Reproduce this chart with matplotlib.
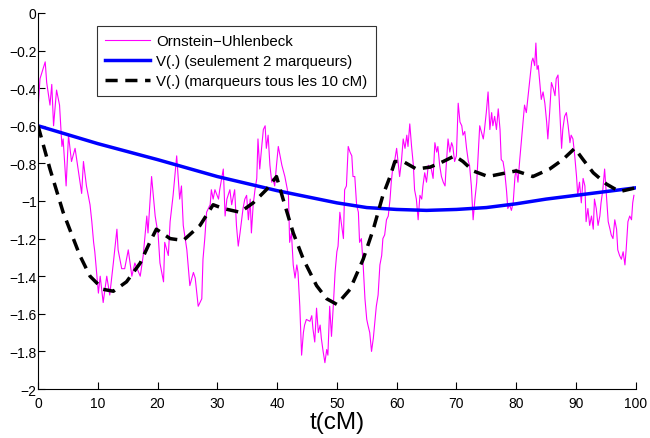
import matplotlib
matplotlib.use("Agg")
import matplotlib.pyplot as plt

plt.rcParams['font.family'] = ['Liberation Sans', 'DejaVu Sans']

# Trajectoire Ornstein-Uhlenbeck
ou_t = [0.0, 0.05, 0.33, 1.2, 1.45, 2.0, 2.3, 2.6, 3.1, 3.6, 4.0, 4.2, 4.7, 5.1, 5.6, 6.2, 6.7,
        7.3, 7.6, 8.1, 8.7, 9.0, 9.3, 9.5, 9.8, 10.1, 10.4, 10.9, 11.5, 12.0, 12.6, 13.2, 13.4,
        14.0, 14.5, 15.1, 15.7, 16.2, 17.1, 17.6, 18.2, 18.4, 19.0, 19.6, 20.1, 20.4, 21.0,
        21.2, 21.8, 22.1, 22.6, 23.2,
        23.7, 24.0, 24.3, 24.9, 25.4, 26.0, 26.3, 26.8, 27.4, 27.6, 27.9, 28.2, 28.8, 29.0,
        29.3, 29.6, 30.2, 30.4, 31.0, 31.3, 31.6, 32.1, 32.4, 32.9, 33.2, 33.5, 33.8, 34.3,
        34.6, 34.9, 35.2, 35.5, 35.7, 36.0, 36.3, 36.6, 36.8, 37.1, 37.4, 37.7, 38.0, 38.2,
        38.5, 38.8, 39.1, 39.3, 39.6, 39.9, 40.2, 40.5, 40.8, 41.3, 41.6, 41.9, 42.1, 42.4,
        42.7, 43.0, 43.3, 43.5, 43.8, 44.1, 44.4, 44.6, 44.9, 45.5, 45.8, 46.0, 46.3, 46.6,
        46.9, 47.2, 47.4, 47.7, 48.0, 48.3, 48.5,
        48.8, 49.1, 49.4, 49.7, 50.0, 50.2, 50.5, 50.8, 51.1, 51.3, 51.6, 51.9, 52.2, 52.5,
        52.7, 53.0, 53.3, 53.6, 53.8, 54.1, 54.4, 54.7, 55.0, 55.2, 55.5, 55.8, 56.1, 56.4,
        56.6, 56.9, 57.2, 57.5, 57.7, 58.0, 58.3, 58.6, 58.9, 59.1, 59.4, 59.7, 60.0, 60.3,
        60.5, 60.8, 61.1, 61.4, 61.7, 61.9, 62.2, 62.5, 62.8, 63.0, 63.3, 63.6, 63.9, 64.2,
        64.4, 64.7, 65.0, 65.3, 65.8, 66.1, 66.4, 66.7, 66.9, 67.2, 67.5, 67.8, 68.1, 68.3,
        68.6, 68.9, 69.2, 69.4, 69.7, 70.0, 70.3, 70.6, 70.9, 71.1, 71.4, 71.7, 72.0, 72.2,
        72.5, 72.8, 73.1, 73.4, 73.6,
        73.9, 74.5, 74.7, 75.0, 75.3, 75.6, 75.9, 76.1, 76.4, 76.7, 77.0, 77.3, 77.5, 77.8,
        78.1, 78.4, 78.6, 78.9, 79.2, 79.5, 79.8, 80.0, 80.3, 80.6, 80.9, 81.2, 81.4, 81.7,
        82.0, 82.3, 82.6, 82.8, 83.1, 83.3, 83.5, 83.7, 83.9, 84.2, 84.5, 84.8, 85.1, 85.3,
        85.6, 85.9, 86.2, 86.5, 86.7, 87.0, 87.3, 87.6, 87.8, 88.1, 88.4, 88.7, 89.0, 89.2,
        89.5, 89.8, 90.1, 90.3, 90.6, 90.9, 91.2, 91.5, 91.7, 92.0, 92.3, 92.6, 92.9, 93.1,
        93.4, 93.7, 94.0, 94.2, 94.5, 94.8, 95.1, 95.4, 95.7, 95.9, 96.2, 96.5, 96.8, 97.0,
        97.3, 97.6, 97.9, 98.2, 98.4, 98.7, 99.0, 99.3, 99.5, 99.7]
ou_y = [-0.60, -0.49, -0.35, -0.26, -0.37, -0.49, -0.38, -0.60, -0.41, -0.49, -0.71, -0.67,
        -0.92, -0.65, -0.79, -0.72, -0.83, -0.96, -0.79, -0.92, -1.02, -1.11, -1.22, -1.27,
        -1.38, -1.49, -1.40, -1.54, -1.40, -1.50, -1.33, -1.15, -1.26, -1.36, -1.36, -1.26,
        -1.40, -1.33, -1.40, -1.29, -1.08, -1.17, -0.87, -1.08, -1.18, -1.33, -1.43, -1.22,
        -1.29, -1.11, -0.97, -0.76,
        -0.99, -0.92, -1.13, -1.26, -1.45, -1.38, -1.41, -1.56, -1.52, -1.31, -1.20, -1.06,
        -1.02, -0.94, -0.99, -0.94, -0.99, -0.94, -0.83, -1.08, -0.99, -0.94, -1.02, -0.94,
        -1.13, -1.24, -1.17, -1.04, -0.99, -0.97, -1.10, -0.99, -1.17, -1.02, -0.94, -0.88,
        -0.67, -0.83, -0.72, -0.62, -0.60, -0.72, -0.65, -0.81, -0.90, -0.88, -0.92, -0.81,
        -0.71, -0.76, -0.81, -0.87, -0.92, -0.97, -1.22, -1.17, -1.34, -1.41, -1.34, -1.38,
        -1.56, -1.82, -1.70, -1.66, -1.63, -1.64, -1.61, -1.68, -1.75, -1.57, -1.70, -1.66,
        -1.73, -1.80, -1.86, -1.79, -1.82,
        -1.56, -1.72, -1.56, -1.38, -1.27, -1.24, -1.06, -1.13, -1.20, -0.94, -0.92, -0.71,
        -0.74, -0.76, -0.87, -0.87, -1.02, -1.06, -1.22, -1.20, -1.34, -1.52, -1.63, -1.66,
        -1.70, -1.80, -1.73, -1.63, -1.56, -1.50, -1.34, -1.29, -1.20, -1.18, -1.10, -1.08,
        -0.99, -0.90, -0.81, -0.78, -0.72, -0.81, -0.87, -0.79, -0.67, -0.72, -0.65, -0.71,
        -0.59, -0.71, -0.81, -0.94, -0.99, -1.10, -0.97, -0.99, -0.92, -0.85, -0.90, -0.81,
        -0.83, -0.88, -0.69, -0.74, -0.71, -0.81, -0.87, -0.90, -0.92, -0.81, -0.67, -0.74,
        -0.69, -0.71, -0.79, -0.76, -0.48, -0.58, -0.60, -0.65, -0.63, -0.72, -0.79, -0.81,
        -0.92, -1.10, -0.99, -0.90, -0.78,
        -0.60, -0.67, -0.62, -0.53, -0.42, -0.62, -0.53, -0.60, -0.55, -0.62, -0.51, -0.62,
        -0.78, -0.79, -0.85, -0.95, -1.04, -1.02, -1.05, -1.01, -0.87, -0.83, -0.90, -0.78,
        -0.67, -0.56, -0.49, -0.53, -0.44, -0.35, -0.26, -0.24, -0.28, -0.16, -0.30, -0.28,
        -0.35, -0.46, -0.42, -0.48, -0.58, -0.67, -0.53, -0.37, -0.40, -0.44, -0.35, -0.33,
        -0.53, -0.72, -0.62, -0.55, -0.53, -0.60, -0.69, -0.65, -0.67, -0.76, -0.87, -0.97,
        -0.90, -1.01, -0.88, -0.92, -1.11, -1.04, -1.13, -1.08, -1.15, -0.99, -1.04, -1.13,
        -1.08, -1.01, -0.94, -0.83, -0.97, -1.11, -1.15, -1.18, -1.20, -1.10, -1.15, -1.26,
        -1.29, -1.31, -1.27, -1.34, -1.26, -1.11, -1.08, -1.10, -1.01, -0.97]

# V(.) avec seulement 2 marqueurs
v2_t = [0, 10, 20, 25, 30, 40, 50, 55, 60, 65, 70, 75, 80, 85, 90, 95, 100]
v2_y = [-0.60, -0.695, -0.78, -0.825, -0.87, -0.945, -1.01, -1.035, -1.045, -1.05,
        -1.045, -1.035, -1.015, -0.99, -0.97, -0.95, -0.93]

# V(.) avec marqueurs tous les 10 cM
v10_t = [0, 2.0, 4.2, 7.0, 8.7, 10.9, 12.6, 14.8, 17.1, 18.7, 19.8, 22.1, 24.3, 27.1, 29.3,
         31.0, 33.8, 36.0, 38.2, 39.9, 41.0, 42.7, 44.4, 46.6, 48.3, 50.0, 52.2, 54.4, 56.1,
         57.7, 58.9, 59.7, 61.1, 63.3, 65.6, 67.8, 69.7, 71.1, 72.8, 75.3, 78.4, 80.0, 82.8,
         85.6, 87.8, 89.8, 91.2, 92.9, 95.1, 97.3, 100]
v10_y = [-0.60, -0.83, -1.06, -1.29, -1.40, -1.47, -1.48, -1.43, -1.33, -1.22, -1.15, -1.20,
         -1.21, -1.13, -1.02, -1.04, -1.06, -1.01, -0.94, -0.87, -0.99, -1.17, -1.31, -1.45,
         -1.52, -1.55, -1.47, -1.31, -1.15, -0.97, -0.87, -0.79, -0.79, -0.83, -0.82, -0.79,
         -0.76, -0.79, -0.84, -0.87, -0.85, -0.84, -0.87, -0.83, -0.78, -0.72, -0.78, -0.85,
         -0.91, -0.95, -0.93]

yticks = [0, -0.2, -0.4, -0.6, -0.8, -1, -1.2, -1.4, -1.6, -1.8, -2]
ylabels = ['0', '\u22120.2', '\u22120.4', '\u22120.6', '\u22120.8', '\u22121',
           '\u22121.2', '\u22121.4', '\u22121.6', '\u22121.8', '\u22122']
xticks = [0, 10, 20, 30, 40, 50, 60, 70, 80, 90, 100]

fig = plt.figure(figsize=(6.5, 4.39), dpi=100)
ax = fig.add_axes([0.0585, 0.1116, 0.9195, 0.8566])

ax.plot(ou_t, ou_y, color='#ff00ff', lw=0.8, label='Ornstein\u2212Uhlenbeck')
ax.plot(v2_t, v2_y, color='#0000ff', lw=2.5, label='V(.) (seulement 2 marqueurs)')
ax.plot(v10_t, v10_y, color='black', lw=2.5, ls=(0, (3.5, 2.2)),
        label='V(.) (marqueurs tous les 10 cM)')

ax.set_xlim(0, 100)
ax.set_ylim(-2, 0)
ax.set_xticks(xticks)
ax.set_yticks(yticks)
ax.set_yticklabels(ylabels)
ax.tick_params(direction='in', length=5, width=0.8, labelsize=10)
ax.tick_params(axis='x', pad=5)
ax.tick_params(axis='y', pad=1)
ax.spines['top'].set_visible(False)
ax.spines['right'].set_visible(False)
ax.set_xlabel('t(cM)', fontsize=17.5, labelpad=1)

leg = ax.legend(loc='upper left', bbox_to_anchor=(0.099, 0.966), fontsize=10.8,
                frameon=True, fancybox=False, edgecolor='black', handlelength=3.0,
                borderpad=0.55, labelspacing=0.4, handletextpad=0.4, borderaxespad=0)
leg.get_frame().set_linewidth(0.8)

fig.savefig('out.png', dpi=100)
